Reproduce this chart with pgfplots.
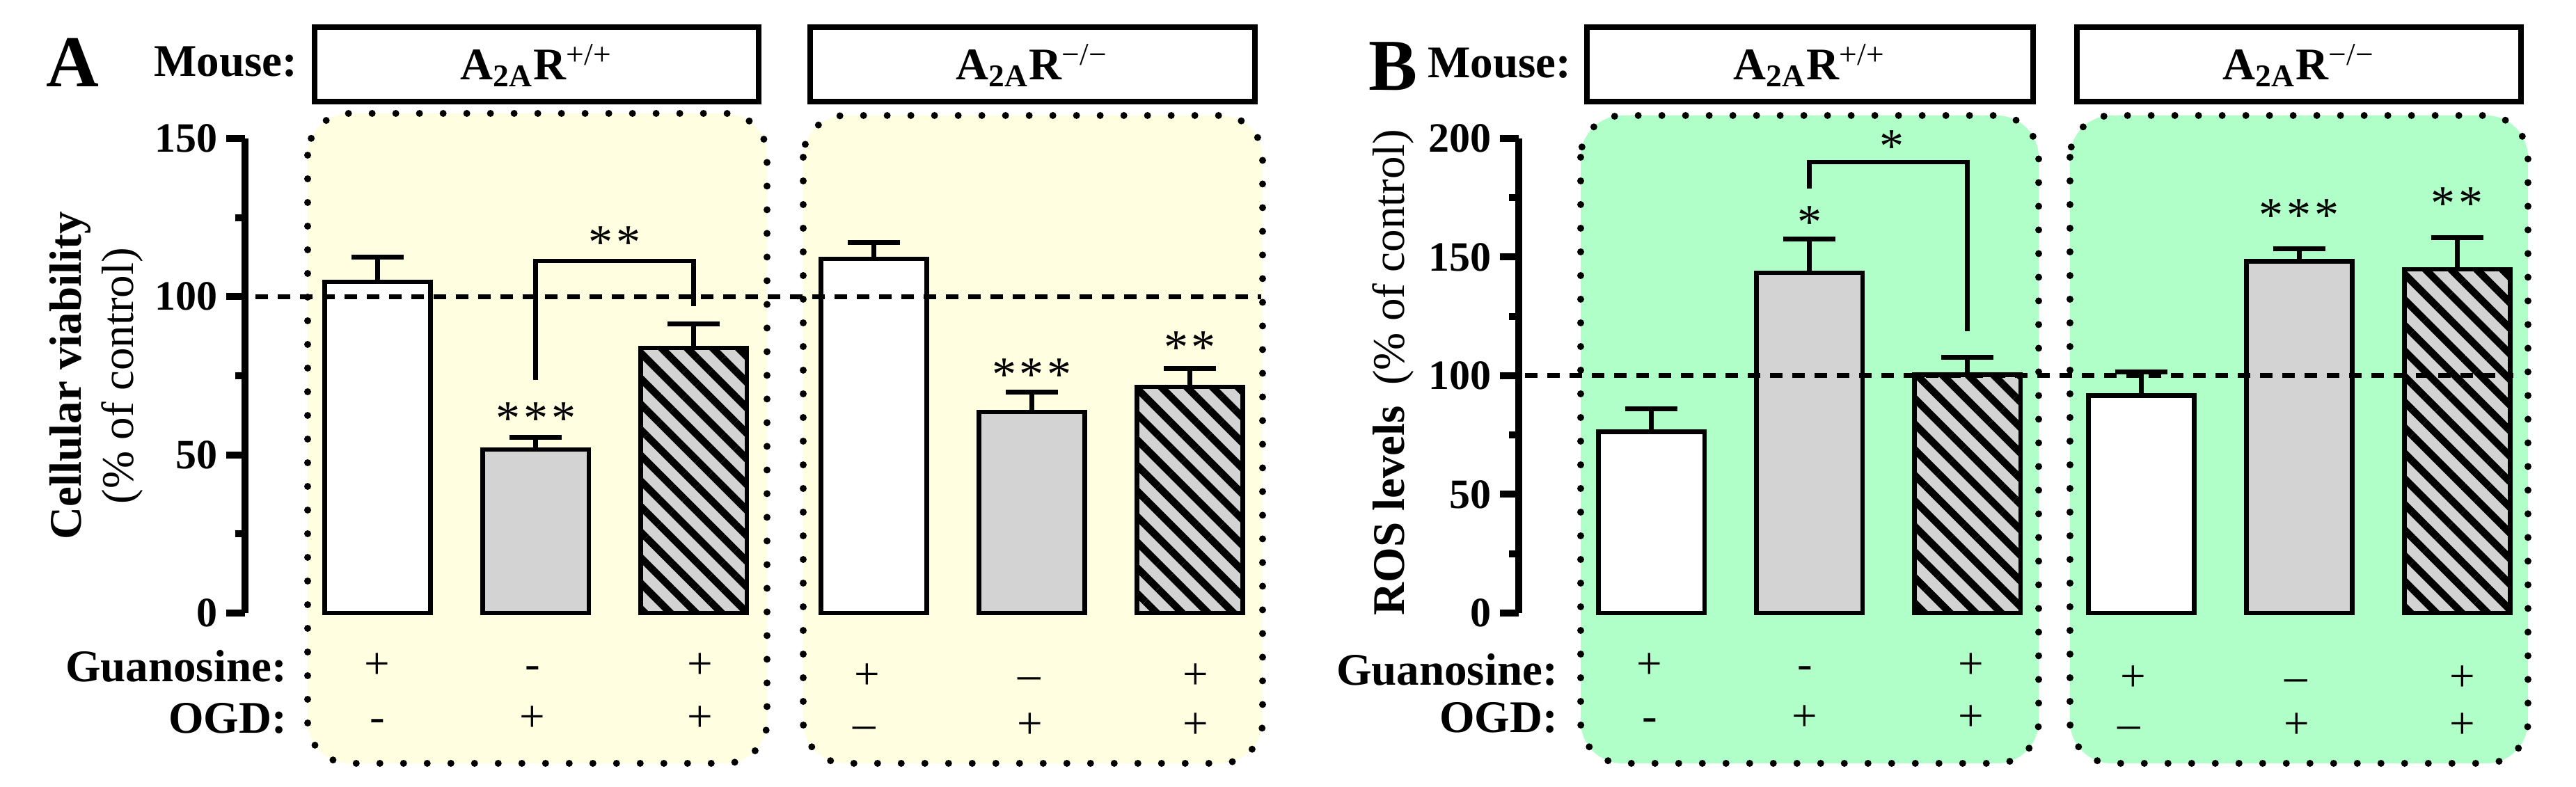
\documentclass[border=0pt]{standalone}
\usepackage{fontspec}
\setmainfont{Liberation Serif}
\usepackage{pgfplots}
\pgfplotsset{compat=1.18}
\usetikzlibrary{patterns.meta}
\definecolor{yel}{RGB}{255,254,224}
\definecolor{grn}{RGB}{176,255,200}
\definecolor{bgray}{RGB}{211,211,211}

\pgfplotsset{
  panel/.style={
    scale only axis, width=301.456pt, height=136.4pt,
    anchor=south west, clip=false,
    xmin=0.16, xmax=6.8, ymin=0,
    axis x line=none, axis y line*=left,
    y axis line style={line width=2pt},
    tick style={line width=2pt, black},
    tick align=outside,
    major tick length=5.4pt, minor tick length=2.8pt,
    yticklabel style={font=\fontsize{12}{14}\selectfont\bfseries, inner sep=0pt, xshift=-2.4pt},
    /pgf/number format/assume math mode=true,
  },
  barbase/.style={ybar, bar width=0.67, bar shift=0pt, draw=black, line width=1.3pt},
  eb/.style={error bars/.cd, y dir=plus, y explicit, error mark=|,
    error bar style={line width=1.3pt, black},
    error mark options={line width=1.4pt, mark size=7.5pt, black}},
  hatch/.style={ybar, bar width=0.67, bar shift=0pt, draw=black, line width=1.3pt,
    pattern={Lines[angle=-45,distance=5.2pt,line width=2.1pt]}, pattern color=black},
}
\tikzset{
  dotbox/.style={line width=2pt, dash pattern=on 0pt off 6.8pt, line cap=round, rounded corners=12pt},
  hbox/.style={line width=1.5pt},
  star/.style={font=\fontsize{14}{16}\selectfont, inner sep=0pt, yshift=-1.7pt},
  sgn/.style={font=\fontsize{13}{15}\selectfont, inner sep=0pt, anchor=base},
  lab/.style={font=\fontsize{13}{15}\selectfont\bfseries, inner sep=0pt, anchor=base east},
  dline/.style={line width=1.4pt, dash pattern=on 3.6pt off 2.8pt},
  brk/.style={line width=1.3pt},
}
\newcommand{\hdr}[1]{\fontsize{13}{15}\selectfont\bfseries A\textsubscript{2A}R\textsuperscript{\mdseries #1}}
\newcommand{\sst}{*\hspace{1pt}}

\begin{document}
\begin{tikzpicture}
\path[use as bounding box] (0,0) rectangle (740.2pt,-226.2pt);
\begin{scope}[x=0.2pt,y=-0.2pt]
  % backgrounds
  \fill[yel, rounded corners=12pt] (442,163) rectangle (1102,1097);
  \fill[yel, rounded corners=12pt] (1154,166) rectangle (1814,1097);
  \fill[grn, rounded corners=12pt] (2271,166) rectangle (2929,1097);
  \fill[grn, rounded corners=12pt] (2974,166) rectangle (3632,1097);
  \draw[dotbox] (442,163) rectangle (1102,1097);
  \draw[dotbox] (1154,166) rectangle (1814,1097);
  \draw[dotbox] (2271,166) rectangle (2929,1097);
  \draw[dotbox] (2974,166) rectangle (3632,1097);
  % header boxes
  \draw[hbox] (452,39) rectangle (1090,146);
  \draw[hbox] (1164,39) rectangle (1803,146);
  \draw[hbox] (2280,39) rectangle (2921,146);
  \draw[hbox] (2984,39) rectangle (3622,146);
  \node[inner sep=0pt, anchor=base] at (771,115) {\hdr{+/+}};
  \node[inner sep=0pt, anchor=base] at (1483,115) {\hdr{−/−}};
  \node[inner sep=0pt, anchor=base] at (2600,115) {\hdr{+/+}};
  \node[inner sep=0pt, anchor=base] at (3303,115) {\hdr{−/−}};
  % panel letters and labels
  \node[inner sep=0pt, anchor=base west, font=\fontsize{21}{24}\selectfont\bfseries] at (65,125) {A};
  \node[inner sep=0pt, anchor=base west, font=\fontsize{21}{24}\selectfont\bfseries] at (1965,130) {B};
  \node[lab] at (428,110) {Mouse:};
  \node[lab] at (2258,112) {Mouse:};
  \node[lab] at (413,980) {Guanosine:};
  \node[lab] at (413,1054) {OGD:};
  \node[lab] at (2239,985) {Guanosine:};
  \node[lab] at (2239,1053) {OGD:};
  % y labels
  \node[rotate=90, align=center, font=\fontsize{13}{15}\selectfont, inner sep=0pt] at (138,540) {\textbf{Cellular viability}\\(\% of control)};
  \node[rotate=90, font=\fontsize{13}{15}\selectfont, inner sep=0pt] at (2002,535) {\textbf{ROS levels}\hspace{0.45em}(\% of control)};
  % treatment signs
  \node[sgn] at (542,976) {+};  \node[sgn] at (765,976) {-};  \node[sgn] at (1006,976) {+};
  \node[sgn] at (542,1052) {-}; \node[sgn] at (765,1052) {+}; \node[sgn] at (1006,1052) {+};
  \node[sgn] at (1246,991) {+};  \node[sgn] at (1479,991) {–};  \node[sgn] at (1718,991) {+};
  \node[sgn] at (1242,1062) {–}; \node[sgn] at (1480,1062) {+}; \node[sgn] at (1718,1062) {+};
  \node[sgn] at (2370,976) {+};  \node[sgn] at (2593,976) {-};  \node[sgn] at (2832,976) {+};
  \node[sgn] at (2370,1051) {-}; \node[sgn] at (2593,1051) {+}; \node[sgn] at (2832,1051) {+};
  \node[sgn] at (3065,994) {+};  \node[sgn] at (3299,994) {–};  \node[sgn] at (3538,994) {+};
  \node[sgn] at (3059,1062) {–}; \node[sgn] at (3300,1062) {+}; \node[sgn] at (3538,1062) {+};
\end{scope}

% ---------- Panel A ----------
\begin{axis}[panel, at={(70.4pt,-176.2pt)}, ymax=150,
  ytick={0,50,100,150}, minor ytick={25,75,125}]
  \addplot[barbase, fill=white, eb] coordinates {(1,104.7) +- (0,7.7) (4.14,111.9) +- (0,5.3)};
  \addplot[barbase, fill=bgray, eb] coordinates {(2,51.7) +- (0,3.9) (5.14,63.6) +- (0,6.3)};
  \addplot[barbase, fill=bgray, eb] coordinates {(3,83.8) +- (0,7.5) (6.14,71.5) +- (0,5.9)};
  \addplot[hatch] coordinates {(3,83.8) (6.14,71.5)};
  \draw[brk] (axis cs:2,73.7) -- (axis cs:2,111.3) -- (axis cs:3,111.3) -- (axis cs:3,97);
  \node[star] at (axis cs:2.5,119) {\sst*};
  \node[star] at (axis cs:2,63.3) {\sst\sst*};
  \node[star] at (axis cs:5.14,77.2) {\sst\sst*};
  \node[star] at (axis cs:6.14,85.8) {\sst*};
  \draw[dline] (axis cs:0.226,100) -- (axis cs:6.59,100);
\end{axis}

% ---------- Panel B ----------
\begin{axis}[panel, at={(436.4pt,-176.2pt)}, ymax=200,
  ytick={0,50,100,150,200}, minor ytick={25,75,125,175}]
  \addplot[barbase, fill=white, eb] coordinates {(1,76.4) +- (0,9.6) (4.1,91.7) +- (0,9.9)};
  \addplot[barbase, fill=bgray, eb] coordinates {(2,143.4) +- (0,14.2) (5.1,148.3) +- (0,5.1)};
  \addplot[barbase, fill=bgray, eb] coordinates {(3,100.4) +- (0,7.5) (6.1,144.9) +- (0,13.4)};
  \addplot[hatch] coordinates {(3,100.4) (6.1,144.9)};
  \draw[brk] (axis cs:2,179) -- (axis cs:2,190) -- (axis cs:3,190) -- (axis cs:3,118.8);
  \node[star] at (axis cs:2.52,199) {*};
  \node[star] at (axis cs:2,167) {*};
  \node[star] at (axis cs:5.1,170) {\sst\sst*};
  \node[star] at (axis cs:6.1,175) {\sst*};
  \draw[dline] (axis cs:0.2,100) -- (axis cs:6.455,100);
\end{axis}
\end{tikzpicture}
\end{document}
